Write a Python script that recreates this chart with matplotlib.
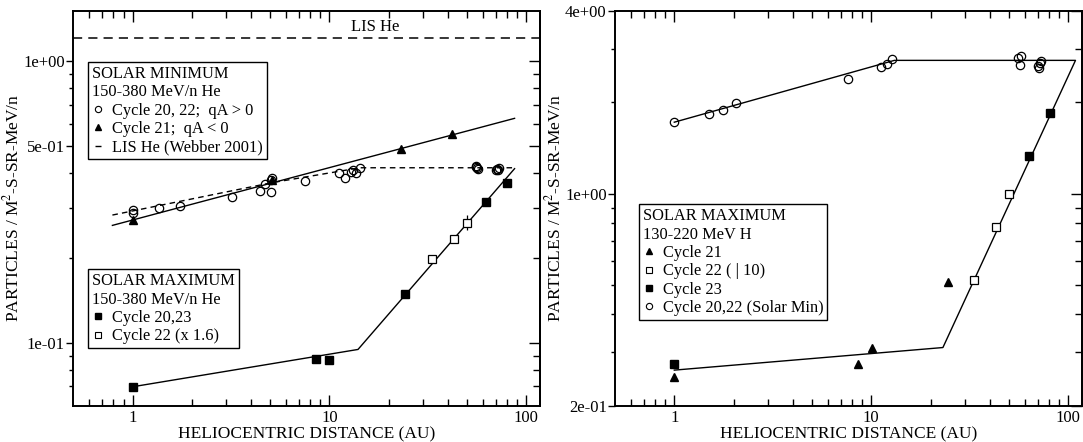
import numpy as np
import matplotlib.pyplot as plt
from matplotlib.lines import Line2D

plt.rcParams['font.family'] = 'Liberation Serif'
plt.rcParams['mathtext.fontset'] = 'stix'

# ---- left panel: He 150-380 MeV/n ----
# solar minimum, cycle 20,22 (open circles)
min_au = [1.0, 1.0, 1.37, 1.74, 3.19, 4.42, 4.73, 5.06, 5.05, 5.08, 7.55, 11.2, 12.0,
          12.8, 13.2, 13.6, 14.3, 55.6, 56.2, 56.9, 55.4, 69.9, 70.8, 72.8, 71.5]
min_flux = [0.295, 0.288, 0.302, 0.305, 0.330, 0.345, 0.365, 0.342, 0.379, 0.384, 0.374, 0.401, 0.385,
            0.404, 0.412, 0.402, 0.418, 0.424, 0.418, 0.415, 0.421, 0.412, 0.415, 0.418, 0.410]
# solar minimum, cycle 21 (filled triangles)
c21_au = [1.0, 5.1, 23.1, 41.7]
c21_flux = [0.272, 0.378, 0.486, 0.549]
# fits
fit21_au = [0.79, 87.2]
fit21_flux = [0.261, 0.626]
fit22_au = [0.79, 5.1, 14.3, 88.0]
fit22_flux = [0.284, 0.370, 0.418, 0.418]
lis_he = 1.204
# solar maximum
max_au = [1.0, 8.55, 10.0, 24.1, 62.7, 80.1]
max_flux = [0.0698, 0.0875, 0.0870, 0.149, 0.316, 0.368]
c22max_au = [33.3, 43.1, 50.1]
c22max_flux = [0.199, 0.233, 0.267]
c22max_err = [0.0, 0.0, 0.016]
fitmax_au = [1.0, 13.97, 87.2]
fitmax_flux = [0.0698, 0.0947, 0.415]

# ---- right panel: H 130-220 MeV ----
hmin_au = [1.0, 1.50, 1.77, 2.06, 7.60, 11.2, 12.0, 12.75,
           55.7, 56.8, 57.8, 70.4, 71.2, 71.8, 73.1]
hmin_flux = [1.72, 1.83, 1.88, 1.995, 2.39, 2.62, 2.67, 2.77,
             2.80, 2.66, 2.85, 2.63, 2.60, 2.69, 2.74]
h21_au = [1.0, 8.58, 10.1, 24.4]
h21_flux = [0.249, 0.274, 0.310, 0.510]
h22_au = [33.2, 43.2, 50.2]
h22_flux = [0.52, 0.775, 1.0]
h23_au = [1.0, 63.3, 80.3]
h23_flux = [0.275, 1.33, 1.85]
hfit_au = [1.0, 13.1, 108.8, 23.1, 1.0]
hfit_flux = [1.72, 2.75, 2.75, 0.311, 0.262]

fig = plt.figure(figsize=(10.83, 4.42), dpi=100)
W, H = 1083.0, 442.0
ax1 = fig.add_axes([73.3 / W, 1 - 405.7 / H, 466.7 / W, 394.7 / H])
ax2 = fig.add_axes([615.0 / W, 1 - 405.7 / H, 467.0 / W, 394.7 / H])


def style(ax, ylim, ymaj, ymaj_lab, ymin):
    ax.set_xscale('log')
    ax.set_yscale('log')
    ax.set_xlim(0.5, 117.4)
    ax.set_ylim(*ylim)
    ax.set_xticks([1, 10, 100])
    ax.set_xticklabels(['1', '10', '100'])
    ax.set_xticks([0.6, 0.7, 0.8, 0.9] + list(range(2, 10)) + list(range(20, 100, 10)), minor=True)
    ax.xaxis.set_minor_formatter(plt.NullFormatter())
    ax.set_yticks(ymaj)
    ax.set_yticklabels(ymaj_lab)
    ax.set_yticks(ymin, minor=True)
    ax.yaxis.set_minor_formatter(plt.NullFormatter())
    ax.tick_params(axis='x', which='both', direction='in', top=True, bottom=True,
                   labelsize=12, pad=3, width=1.0)
    ax.tick_params(axis='x', which='major', length=8)
    ax.tick_params(axis='x', which='minor', length=5)
    ax.tick_params(axis='y', which='both', direction='out', left=True, right=False,
                   labelsize=12, pad=1, width=1.0)
    ax.tick_params(axis='y', which='major', length=5)
    ax.tick_params(axis='y', which='minor', length=3)
    sec = ax.secondary_yaxis('right')
    sec.set_yticks(ymaj)
    sec.set_yticks(ymin, minor=True)
    sec.tick_params(axis='y', which='both', direction='in', labelright=False, width=1.0)
    sec.tick_params(axis='y', which='major', length=8)
    sec.tick_params(axis='y', which='minor', length=5)
    sec.spines['right'].set_linewidth(1.4)
    for s in ax.spines.values():
        s.set_linewidth(1.4)
    ax.set_xlabel('HELIOCENTRIC DISTANCE (AU)', fontsize=12.5)
    ax.xaxis.set_label_coords(0.5, -0.052)
    ax.set_ylabel('PARTICLES / M$^{2}$-S-SR-MeV/n', fontsize=12.5)
    ax.yaxis.set_label_coords(-0.108, 0.5)


style(ax1, (0.0598, 1.505), [0.1, 0.5, 1.0], ['1e-01', '5e-01', '1e+00'],
      [0.07, 0.08, 0.09, 0.2, 0.3, 0.4, 0.6, 0.7, 0.8, 0.9])
style(ax2, (0.2, 4.0), [0.2, 1.0, 4.0], ['2e-01', '1e+00', '4e+00'],
      [0.3, 0.4, 0.5, 0.6, 0.7, 0.8, 0.9, 2.0, 3.0])

# left panel
ax1.axhline(lis_he, color='black', lw=1.1, ls=(0, (6, 4)))
ax1.text(17, 1.32, 'LIS He', ha='center', va='center', fontsize=12)
ax1.plot(fit21_au, fit21_flux, color='black', lw=1.0)
ax1.plot(fit22_au, fit22_flux, color='black', lw=1.0, ls=(0, (4, 3)))
ax1.plot(fitmax_au, fitmax_flux, color='black', lw=1.0)
ax1.plot(min_au, min_flux, ls='none', marker='o', mfc='none', mec='black', ms=6, mew=0.9)
ax1.plot(c21_au, c21_flux, ls='none', marker='^', color='black', ms=6)
ax1.plot(max_au, max_flux, ls='none', marker='s', color='black', ms=6)
ax1.errorbar(c22max_au, c22max_flux, yerr=c22max_err, ls='none', marker='s', mfc='white',
             mec='black', ecolor='black', elinewidth=0.9, ms=5.5, mew=0.9)

# right panel
ax2.plot(hfit_au, hfit_flux, color='black', lw=1.0)
ax2.plot(hmin_au, hmin_flux, ls='none', marker='o', mfc='none', mec='black', ms=6, mew=0.9)
ax2.plot(h21_au, h21_flux, ls='none', marker='^', color='black', ms=6)
ax2.plot(h22_au, h22_flux, ls='none', marker='s', mfc='white', mec='black', ms=5.5, mew=0.9)
ax2.plot(h23_au, h23_flux, ls='none', marker='s', color='black', ms=6)

# legends
circ = Line2D([], [], ls='none', marker='o', mfc='none', mec='black', ms=4.5, mew=0.8)
tri = Line2D([], [], ls='none', marker='^', color='black', ms=4.5)
dash = Line2D([], [], ls='none', marker='_', color='black', ms=5, mew=1.0)
sq_f = Line2D([], [], ls='none', marker='s', color='black', ms=4.5)
sq_o = Line2D([], [], ls='none', marker='s', mfc='white', mec='black', ms=4.5, mew=0.8)

leg_kw = dict(loc='upper left', borderaxespad=0, frameon=True, fancybox=False,
              edgecolor='black', framealpha=1, fontsize=11.8, title_fontsize=11.8,
              alignment='left', handlelength=0.7, handletextpad=0.5,
              labelspacing=0.14, borderpad=0.25)

leg1 = ax1.legend([circ, tri, dash],
                  ['Cycle 20, 22;  qA > 0', 'Cycle 21;  qA < 0', 'LIS He (Webber 2001)'],
                  title='SOLAR MINIMUM\n150-380 MeV/n He',
                  bbox_to_anchor=(0.0315, 0.871), **leg_kw)
leg1.get_frame().set_linewidth(1.0)
ax1.add_artist(leg1)
leg2 = ax1.legend([sq_f, sq_o], ['Cycle 20,23', 'Cycle 22 (x 1.6)'],
                  title='SOLAR MAXIMUM\n150-380 MeV/n He',
                  bbox_to_anchor=(0.0315, 0.3456), **leg_kw)
leg2.get_frame().set_linewidth(1.0)

leg3 = ax2.legend([tri, sq_o, sq_f, circ],
                  ['Cycle 21', 'Cycle 22 ( | 10)', 'Cycle 23', 'Cycle 20,22 (Solar Min)'],
                  title='SOLAR MAXIMUM\n130-220 MeV H',
                  bbox_to_anchor=(0.0513, 0.5103), **leg_kw)
leg3.get_frame().set_linewidth(1.0)

fig.savefig('out.png', dpi=100)
